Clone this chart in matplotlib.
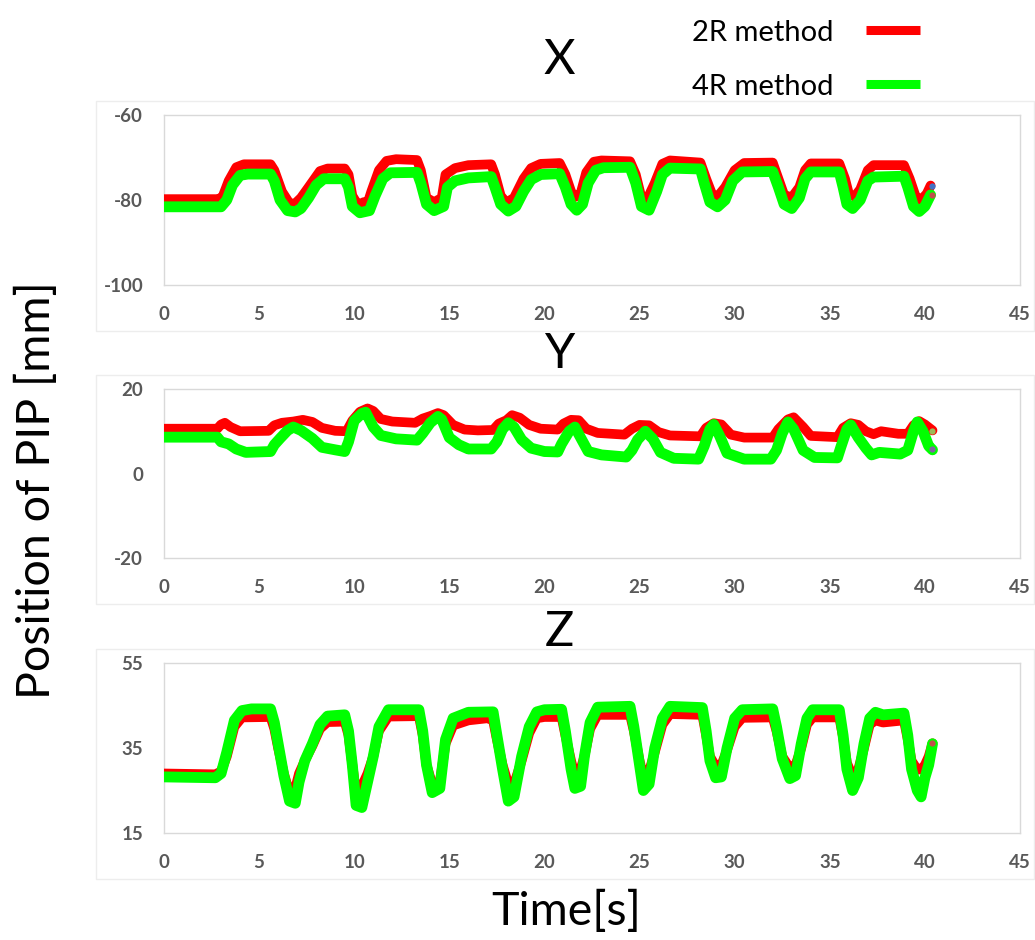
import matplotlib
matplotlib.use("Agg")
import matplotlib.pyplot as plt
from matplotlib.patches import Rectangle
from matplotlib.lines import Line2D

plt.rcParams["axes.unicode_minus"] = False

# ---------------- data ----------------
# X coordinate of the PIP joint
x_2r_t = [0, 2.9, 3.1, 3.4, 3.8, 4.2, 5.6, 5.8, 6.2, 6.6, 6.9, 7.2, 7.6, 8.2, 8.6, 9.5, 9.7, 9.9,
          10.2, 10.5, 10.7, 10.9, 11.3, 11.7, 12.2, 13.3, 13.5, 13.8, 14.2, 14.6, 14.8, 15.3, 16.0,
          17.2, 17.4, 17.7, 18.0, 18.4, 18.9, 19.3, 19.8, 20.8, 21.1, 21.4, 21.6, 21.9, 22.2, 22.6,
          23.0, 24.5, 24.8, 25.1, 25.4, 25.8, 26.2, 26.6, 28.2, 28.5, 28.8, 29.1, 29.5, 30.0, 30.5,
          32.0, 32.3, 32.6, 33.0, 33.4, 33.7, 34.0, 35.5, 35.8, 36.0, 36.3, 36.6, 37.0, 37.3, 38.9,
          39.2, 39.5, 39.8, 40.1, 40.3]
x_2r_v = [-79.8, -79.8, -79.0, -75.5, -72.3, -71.6, -71.6, -73.0, -78.0, -80.8, -80.8, -79.5, -77.0,
          -73.2, -72.6, -72.6, -74.0, -79.0, -81.2, -80.5, -80.8, -78.0, -73.0, -70.8, -70.4, -70.6,
          -73.0, -79.5, -80.5, -79.5, -74.0, -72.5, -71.8, -71.6, -74.0, -79.0, -80.6, -79.5, -75.0,
          -72.5, -71.5, -71.3, -74.0, -78.0, -79.3, -78.5, -73.5, -71.0, -70.7, -70.9, -74.0, -79.5,
          -79.8, -76.0, -71.5, -70.7, -71.2, -75.0, -78.5, -79.2, -77.0, -73.0, -71.3, -71.2, -75.0,
          -78.8, -79.4, -77.0, -73.0, -71.4, -71.4, -75.0, -78.5, -79.2, -77.5, -73.0, -71.8, -71.8,
          -75.0, -79.0, -80.0, -78.5, -76.6]
x_4r_t = [0, 3.0, 3.3, 3.6, 4.0, 4.4, 5.6, 5.8, 6.1, 6.5, 6.9, 7.2, 7.6, 8.0, 8.4, 9.5, 9.7, 9.9,
          10.3, 10.8, 11.1, 11.5, 11.9, 13.3, 13.5, 13.8, 14.2, 14.7, 14.9, 15.3, 16.0, 17.2, 17.4,
          17.7, 18.1, 18.5, 18.9, 19.3, 19.8, 20.8, 21.1, 21.4, 21.7, 22.0, 22.3, 22.7, 23.1, 24.5,
          24.8, 25.1, 25.5, 25.9, 26.2, 26.6, 28.2, 28.4, 28.7, 29.1, 29.5, 29.9, 30.4, 32.0, 32.3,
          32.6, 33.0, 33.4, 33.7, 34.0, 35.5, 35.7, 35.9, 36.2, 36.6, 37.0, 37.3, 38.9, 39.1, 39.4,
          39.7, 40.0, 40.3]
x_4r_v = [-81.6, -81.6, -80.0, -76.5, -74.2, -73.9, -73.9, -75.5, -80.0, -82.5, -82.8, -82.0, -79.5,
          -76.5, -75.0, -75.0, -77.0, -81.5, -83.0, -82.5, -79.0, -75.0, -73.6, -73.5, -76.0, -81.0,
          -82.5, -81.5, -77.0, -75.5, -74.8, -74.5, -77.0, -81.0, -82.6, -81.5, -78.0, -75.2, -74.0,
          -73.8, -77.0, -81.0, -82.4, -81.0, -76.0, -73.0, -72.4, -72.3, -76.0, -81.5, -82.4, -78.0,
          -74.0, -72.5, -72.7, -76.0, -80.5, -81.6, -80.0, -75.5, -73.4, -73.3, -77.0, -81.0, -82.0,
          -79.5, -75.0, -73.4, -73.4, -77.0, -81.0, -82.0, -80.0, -75.5, -74.6, -74.4, -77.0, -81.5,
          -82.7, -81.5, -78.8]

# Y coordinate of the PIP joint
y_2r_t = [0, 2.8, 3.0, 3.2, 3.5, 4.0, 5.5, 5.8, 6.2, 6.8, 7.3, 7.8, 8.3, 9.0, 9.6, 9.9, 10.3, 10.7,
          11.0, 11.4, 12.0, 13.2, 13.6, 14.0, 14.4, 14.7, 15.2, 15.8, 16.5, 17.3, 17.6, 18.0, 18.3,
          18.7, 19.2, 19.8, 20.7, 21.0, 21.4, 21.8, 22.2, 22.8, 24.2, 24.6, 25.0, 25.5, 26.0, 26.6,
          28.2, 28.5, 28.9, 29.3, 29.8, 30.5, 32.0, 32.3, 32.8, 33.1, 33.6, 34.0, 35.4, 35.7, 36.1,
          36.5, 36.9, 37.3, 37.7, 38.6, 39.1, 39.4, 39.7, 40.0, 40.4]
y_2r_v = [10.6, 10.6, 11.6, 12.0, 11.0, 10.0, 10.1, 11.4, 12.0, 12.3, 12.7, 12.2, 10.8, 10.1, 10.0,
          12.5, 14.6, 15.4, 14.8, 12.9, 12.3, 12.0, 13.0, 13.6, 14.3, 13.8, 11.5, 10.4, 10.2, 10.3,
          11.8, 12.6, 13.8, 13.2, 11.5, 10.6, 10.4, 11.8, 12.7, 12.6, 10.6, 9.6, 9.2, 10.6, 11.5,
          11.4, 9.8, 9.0, 8.8, 10.8, 11.9, 11.6, 9.2, 8.5, 8.5, 10.5, 12.8, 13.3, 11.0, 8.9, 8.6,
          10.8, 11.9, 11.5, 10.0, 9.3, 10.0, 9.4, 9.4, 11.4, 12.4, 11.6, 10.2]
y_4r_t = [0, 2.8, 3.0, 3.4, 3.8, 4.3, 5.6, 5.8, 6.1, 6.5, 6.8, 7.2, 7.8, 8.3, 9.0, 9.5, 9.7, 10.0,
          10.4, 10.6, 11.0, 11.4, 12.2, 13.3, 13.6, 14.0, 14.4, 14.6, 15.0, 15.5, 16.0, 17.2, 17.5,
          17.8, 18.1, 18.4, 18.8, 19.3, 20.0, 20.7, 20.9, 21.3, 21.6, 21.9, 22.3, 23.0, 24.3, 24.6,
          24.9, 25.3, 25.7, 26.1, 26.8, 28.1, 28.4, 28.7, 28.9, 29.2, 29.6, 30.5, 31.9, 32.2, 32.5,
          32.8, 33.1, 33.6, 34.2, 35.4, 35.6, 35.9, 36.1, 36.5, 36.9, 37.2, 37.6, 38.7, 39.1, 39.4,
          39.6, 39.9, 40.2, 40.4]
y_4r_v = [8.6, 8.6, 7.5, 7.0, 5.8, 5.0, 5.2, 6.8, 8.3, 10.2, 11.0, 10.2, 8.3, 6.2, 5.6, 5.2, 7.5,
          12.5, 14.2, 14.5, 11.0, 9.0, 8.2, 7.9, 9.5, 12.0, 13.5, 12.8, 8.5, 6.8, 5.8, 5.8, 7.5,
          10.5, 12.0, 11.0, 8.0, 6.0, 5.2, 5.1, 7.0, 10.0, 11.0, 8.5, 5.2, 4.4, 3.9, 5.5, 8.0, 10.0,
          8.2, 5.0, 3.6, 3.4, 6.5, 10.5, 11.6, 9.0, 4.8, 3.4, 3.4, 5.5, 9.5, 12.2, 10.5, 5.5, 3.8,
          3.7, 6.5, 10.5, 11.5, 8.5, 6.0, 4.4, 5.0, 4.6, 5.5, 10.0, 12.2, 10.0, 6.5, 5.6]

# Z coordinate of the PIP joint
z_2r_t = [0, 2.7, 3.0, 3.3, 3.7, 4.1, 5.6, 5.8, 6.0, 6.3, 6.6, 6.9, 7.1, 7.4, 7.8, 8.2, 8.6, 9.5,
          9.7, 9.9, 10.1, 10.4, 10.7, 11.0, 11.3, 11.8, 13.4, 13.6, 13.8, 14.1, 14.5, 14.8, 15.2,
          16.0, 17.0, 17.3, 17.5, 17.8, 18.1, 18.4, 18.8, 19.2, 19.6, 20.0, 20.9, 21.1, 21.4, 21.6,
          21.9, 22.1, 22.4, 22.8, 24.5, 24.7, 25.0, 25.2, 25.5, 25.8, 26.2, 26.6, 28.3, 28.5, 28.7,
          29.0, 29.3, 29.6, 30.0, 30.4, 32.0, 32.2, 32.5, 32.9, 33.2, 33.5, 33.8, 34.1, 35.5, 35.7,
          35.9, 36.2, 36.5, 36.8, 37.1, 37.4, 37.8, 38.9, 39.1, 39.3, 39.6, 39.8, 40.0, 40.2, 40.4]
z_2r_v = [29.0, 28.8, 29.5, 33.0, 40.0, 42.2, 42.3, 39.5, 35.0, 29.0, 24.5, 25.5, 29.0, 32.0, 35.5,
          39.5, 41.1, 41.2, 38.0, 31.0, 24.5, 26.0, 29.0, 33.0, 39.0, 42.4, 42.5, 38.0, 31.0, 26.5,
          27.0, 36.0, 40.3, 41.5, 42.0, 41.5, 37.0, 31.0, 26.5, 26.5, 32.0, 38.5, 42.0, 42.3, 42.3,
          38.0, 32.0, 28.5, 30.0, 33.0, 39.5, 42.8, 42.8, 39.0, 32.0, 28.3, 29.5, 34.0, 40.5, 43.0,
          42.8, 38.0, 33.0, 30.7, 31.0, 34.5, 40.0, 42.1, 42.2, 39.0, 33.0, 30.3, 31.0, 35.0, 40.5,
          42.2, 42.2, 37.5, 31.5, 28.3, 30.0, 35.0, 40.5, 41.5, 41.0, 41.5, 37.0, 32.0, 29.9, 30.0,
          31.0, 33.0, 36.1]
z_4r_t = [0, 2.7, 3.0, 3.3, 3.7, 4.1, 4.6, 5.6, 5.8, 6.0, 6.3, 6.6, 6.9, 7.1, 7.4, 7.8, 8.2, 8.6,
          9.5, 9.7, 9.9, 10.1, 10.4, 10.7, 11.0, 11.3, 11.8, 13.4, 13.6, 13.8, 14.1, 14.5, 14.8,
          15.2, 16.0, 17.3, 17.5, 17.8, 18.1, 18.4, 18.8, 19.2, 19.6, 20.0, 20.9, 21.1, 21.4, 21.6,
          21.9, 22.1, 22.4, 22.8, 24.5, 24.7, 25.0, 25.2, 25.5, 25.8, 26.2, 26.6, 28.3, 28.5, 28.7,
          29.0, 29.3, 29.6, 30.0, 30.4, 32.0, 32.2, 32.5, 32.9, 33.2, 33.5, 33.8, 34.1, 35.5, 35.7,
          35.9, 36.2, 36.5, 36.8, 37.1, 37.4, 37.8, 38.9, 39.1, 39.3, 39.6, 39.8, 40.0, 40.2, 40.4]
z_4r_v = [28.2, 28.0, 29.0, 34.0, 41.5, 43.8, 44.2, 44.2, 41.0, 36.0, 28.5, 22.5, 22.0, 27.0, 32.0,
          36.0, 40.5, 42.5, 42.8, 39.0, 31.0, 21.5, 21.0, 27.0, 33.0, 40.0, 44.0, 44.0, 39.0, 31.0,
          24.5, 25.5, 37.0, 42.0, 43.4, 43.5, 38.0, 30.0, 22.5, 23.5, 33.0, 40.0, 43.5, 44.0, 44.1,
          39.0, 30.0, 25.5, 26.0, 33.0, 41.0, 44.6, 44.8, 40.0, 31.0, 25.0, 26.5, 35.0, 42.0, 44.8,
          44.5, 39.0, 32.0, 28.0, 28.2, 35.0, 42.0, 44.0, 44.2, 40.0, 32.5, 27.8, 28.5, 36.0, 42.0,
          44.0, 44.0, 38.0, 30.0, 25.0, 28.0, 36.0, 42.0, 43.4, 42.8, 43.2, 38.0, 30.0, 25.0, 23.5,
          28.0, 31.0, 36.0]

panel_titles = ["X", "Y", "Z"]
y_limits = [(-100, -60), (-20, 20), (15, 55)]
y_ticks = [[-60, -80, -100], [20, 0, -20], [55, 35, 15]]
x_ticks = [0, 5, 10, 15, 20, 25, 30, 35, 40, 45]
series_names = ["2R method", "4R method"]

# small end-point markers of the auxiliary series
end_marks = [
    [(40.4, -76.7, "#4472C4"), (40.4, -78.8, "#C0504D")],
    [(40.4, 10.1, "#9BBB59"), (40.4, 5.8, "#8064A2")],
    [(40.4, 36.1, "#C0504D")],
]

# ---------------- drawing ----------------
W, H = 1035, 940
fig = plt.figure(figsize=(W / 100, H / 100), dpi=100)
fig.patch.set_facecolor("white")

FONT = "Lato"
RED = "#FF0000"
GREEN = "#00FF00"
TICK_COL = "#595959"
GRID_COL = "#D9D9D9"


def fx(px):
    return px / W


def fy(py):
    return 1 - py / H


# chart-area frames (top, bottom in pixels)
frames = [(101, 331), (375, 604), (649, 879)]
for top, bot in frames:
    fig.patches.append(Rectangle((fx(96), fy(bot)), fx(1034) - fx(96), fy(top) - fy(bot),
                                 transform=fig.transFigure, fill=False,
                                 edgecolor="#EDEDED", linewidth=1.0))

# plot areas (top, bottom in pixels)
areas = [(115, 285), (389, 558), (663, 833)]
title_y = [60, 354, 632]
data = [
    ((x_2r_t, x_2r_v), (x_4r_t, x_4r_v)),
    ((y_2r_t, y_2r_v), (y_4r_t, y_4r_v)),
    ((z_2r_t, z_2r_v), (z_4r_t, z_4r_v)),
]

left_px, right_px = 164, 1020
for i, (top, bot) in enumerate(areas):
    ax = fig.add_axes([fx(left_px), fy(bot), fx(right_px) - fx(left_px), fy(top) - fy(bot)])
    (t2, v2), (t4, v4) = data[i]
    ax.plot(t2, v2, color=RED, lw=7.0, solid_capstyle="round", solid_joinstyle="round", zorder=3)
    ax.plot(t4, v4, color=GREEN, lw=7.8, solid_capstyle="round", solid_joinstyle="round", zorder=4)
    for (mx, my, mc) in end_marks[i]:
        ax.plot([mx], [my], "o", color=mc, ms=4.5, mec="none", zorder=5)
    ax.set_xlim(0, 45)
    ax.set_ylim(*y_limits[i])
    ax.set_xticks(x_ticks)
    ax.set_yticks(y_ticks[i])
    ax.tick_params(length=0, pad=15, labelcolor=TICK_COL)
    for lab in ax.get_xticklabels() + ax.get_yticklabels():
        lab.set_fontfamily(FONT)
        lab.set_fontweight("bold")
        lab.set_fontsize(13.5)
    for sp in ax.spines.values():
        sp.set_color(GRID_COL)
        sp.set_linewidth(1.0)
    fig.text(fx(559), fy(title_y[i]), panel_titles[i], ha="center", va="center",
             fontsize=35, family=FONT, color="black")

# axis labels
fig.text(fx(36), fy(490), "Position of PIP [mm]", rotation=90, ha="center", va="center",
         fontsize=33.5, family=FONT, color="black")
fig.text(fx(566), fy(911), "Time[s]", ha="center", va="center",
         fontsize=33.5, family=FONT, color="black")

# legend
leg_rows = [(33, RED), (87, GREEN)]
for name, (ly, col) in zip(series_names, leg_rows):
    fig.text(fx(833), fy(ly), name, ha="right", va="center", fontsize=21, family=FONT,
             color="black")
    fig.lines.append(Line2D([fx(866), fx(920)], [fy(ly - 3), fy(ly - 3)],
                            transform=fig.transFigure, color=col, lw=6.5,
                            solid_capstyle="butt"))

fig.savefig("out.png", dpi=100, facecolor="white")
